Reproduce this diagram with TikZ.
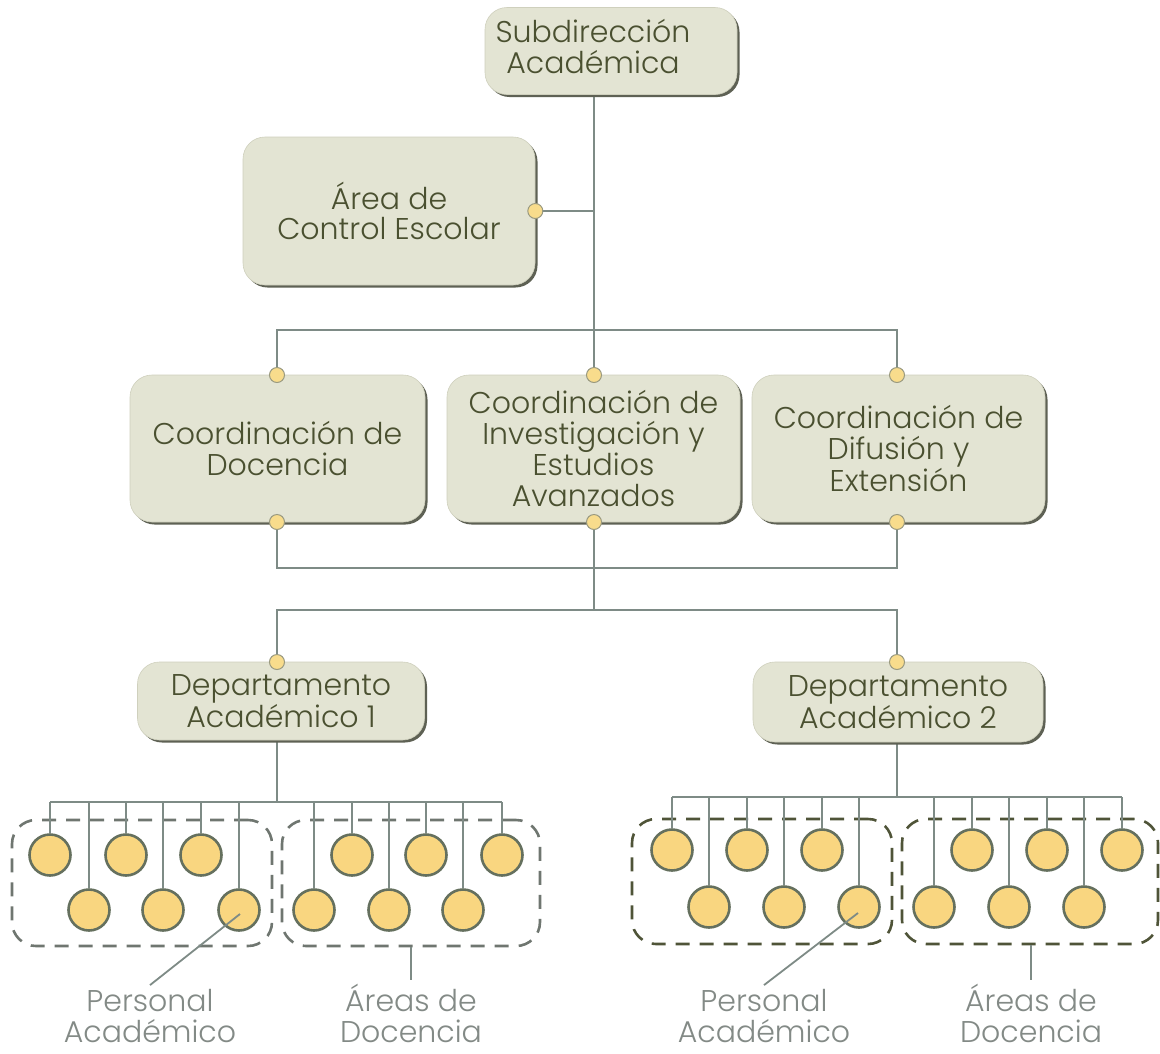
\documentclass[tikz,border=0pt]{standalone}
\usepackage{fontspec}
\setmainfont{Poppins}[UprightFont={* Light}]
\usetikzlibrary{shadows}
\definecolor{boxfill}{HTML}{E3E4D3}
\definecolor{boxline}{HTML}{CFD0BD}
\definecolor{shadowc}{HTML}{5E6154}
\definecolor{txt}{HTML}{4A5030}
\definecolor{connc}{HTML}{7E8B86}
\definecolor{dotfill}{HTML}{F8DC8C}
\definecolor{dotline}{HTML}{9A9A80}
\definecolor{bigfill}{HTML}{F9D680}
\definecolor{bigline}{HTML}{65705E}
\definecolor{dashA}{HTML}{6F7670}
\definecolor{dashB}{HTML}{4F5438}
\definecolor{lblc}{HTML}{838A86}
\pgfdeclarelayer{bg}
\pgfdeclarelayer{lines}
\pgfsetlayers{bg,lines,main}
\begin{document}
\begin{tikzpicture}[x=1pt,y=-1pt,
  box/.style={rounded corners=22pt, fill=boxfill, draw=boxline, line width=0.6pt,
    drop shadow={shadow xshift=2.5pt,shadow yshift=-2.5pt,fill=shadowc,opacity=1},
    text=txt, align=center, font=\fontsize{30}{30.5}\selectfont, inner sep=0pt},
  sdot/.style={circle, fill=dotfill, draw=dotline, line width=1pt, minimum size=15pt, inner sep=0pt},
  big/.style={circle, fill=bigfill, draw=bigline, line width=2.6pt, minimum size=41pt, inner sep=0pt},
  conn/.style={draw=connc, line width=1.8pt},
  dbox/.style={line width=2.6pt, rounded corners=24pt, dash pattern=on 14pt off 10pt, inner sep=0pt},
  lbl/.style={text=lblc, align=center, font=\fontsize{30}{31}\selectfont, inner sep=0pt}
]
\begin{pgfonlayer}{bg}
\fill[white] (0,0) rectangle (1160,1053);
\end{pgfonlayer}
\useasboundingbox (0,0) rectangle (1160,1053);

% boxes
\node[box, minimum width=252pt, minimum height=87pt] (sub) at (611,51)
  {\begin{tabular}{@{}c@{}}Subdirección\\[-1pt]Académica\end{tabular}\hspace*{36pt}};
\node[box, minimum width=292pt, minimum height=148pt] (area) at (389,211) {Área de\\Control Escolar};
\node[box, minimum width=295pt, minimum height=147pt] (cdoc) at (277.5,448.5) {Coordinación de\\Docencia};
\node[box, minimum width=293pt, minimum height=147pt] (cinv) at (593.5,448.5) {Coordinación de\\Investigación y\\Estudios\\Avanzados};
\node[box, minimum width=293pt, minimum height=147pt] (cdif) at (898.5,448.5) {Coordinación de\\Difusión y\\Extensión};
\node[box, minimum width=287pt, minimum height=78pt] (dep1) at (281,701) {Departamento\\Académico 1};
\node[box, minimum width=290pt, minimum height=80pt] (dep2) at (898,702) {Departamento\\Académico 2};

% small dots
\node[sdot] (darea) at (area.east) {};
\node[sdot] (d1t) at (277,375) {};
\node[sdot] (d2t) at (594,375) {};
\node[sdot] (d3t) at (897,375) {};
\node[sdot] (d1b) at (277,522) {};
\node[sdot] (d2b) at (594,522) {};
\node[sdot] (d3b) at (897,522) {};
\node[sdot] (dp1) at (277,662) {};
\node[sdot] (dp2) at (897,662) {};

\coordinate (h1) at (594,330);
\coordinate (h2) at (594,568);
\coordinate (h3) at (594,610);
\coordinate (j1) at (277,802);
\coordinate (j2) at (897,797);

% dashed group frames
\begin{pgfonlayer}{bg}
\node[dbox, draw=dashA, minimum width=260pt, minimum height=126pt] (gL1) at (142,883) {};
\node[dbox, draw=dashA, minimum width=258pt, minimum height=126pt] (gL2) at (411,883) {};
\node[dbox, draw=dashB, minimum width=260pt, minimum height=125pt] (gR1) at (762,881.5) {};
\node[dbox, draw=dashB, minimum width=256pt, minimum height=125pt] (gR2) at (1030,881.5) {};
\end{pgfonlayer}

% big circles
\foreach \n/\x/\y in {1/50/855,2/89/910,3/126/855,4/163/910,5/201/855,6/239/910,
                      7/314/910,8/352/855,9/389/910,10/426/855,11/463/910,12/502/855}
  \node[big] (L\n) at (\x,\y) {};
\foreach \n/\x/\y in {1/672/850,2/709/907,3/747/850,4/784/907,5/822/850,6/859/907,
                      7/934/907,8/972/850,9/1009/907,10/1047/850,11/1084/907,12/1122/850}
  \node[big] (R\n) at (\x,\y) {};

% labels
\node[lbl] (pL) at (150,1016) {Personal\\Académico};
\node[lbl] (aL) at (411,1013.5) {Áreas de\\Docencia};
\node[lbl] (pR) at (764,1016) {Personal\\Académico};
\node[lbl] (aR) at (1031,1013.5) {Áreas de\\Docencia};

% connectors
\begin{pgfonlayer}{lines}
\draw[conn] (sub.south -| d2t) -- (d2t);
\draw[conn] (darea) -- (darea -| d2t);
\draw[conn] (d1t) |- (h1) -| (d3t);
\draw[conn] (d1b) |- (h2) -| (d3b);
\draw[conn] (d2b) -- (h3);
\draw[conn] (dp1) |- (h3) -| (dp2);
\draw[conn] (j1 |- dep1.south) -- (j1);
\draw[conn] (L1 |- j1) -- (L12 |- j1);
\foreach \i in {1,...,12} \draw[conn] (L\i |- j1) -- (L\i.north);
\draw[conn] (j2 |- dep2.south) -- (j2);
\draw[conn] (R1 |- j2) -- (R12 |- j2);
\foreach \i in {1,...,12} \draw[conn] (R\i |- j2) -- (R\i.north);
\draw[conn] ([yshift=4pt]aL.north) -- (aL.north |- gL2.south);
\draw[conn] ([yshift=4pt]aR.north) -- (aR.north |- gR2.south);
\end{pgfonlayer}
\draw[conn] ([yshift=4pt]pL.north) -- ([shift={(1pt,-4pt)}]L6.center);
\draw[conn] ([yshift=4pt]pR.north) -- ([shift={(-1pt,-6pt)}]R6.center);
\end{tikzpicture}
\end{document}
